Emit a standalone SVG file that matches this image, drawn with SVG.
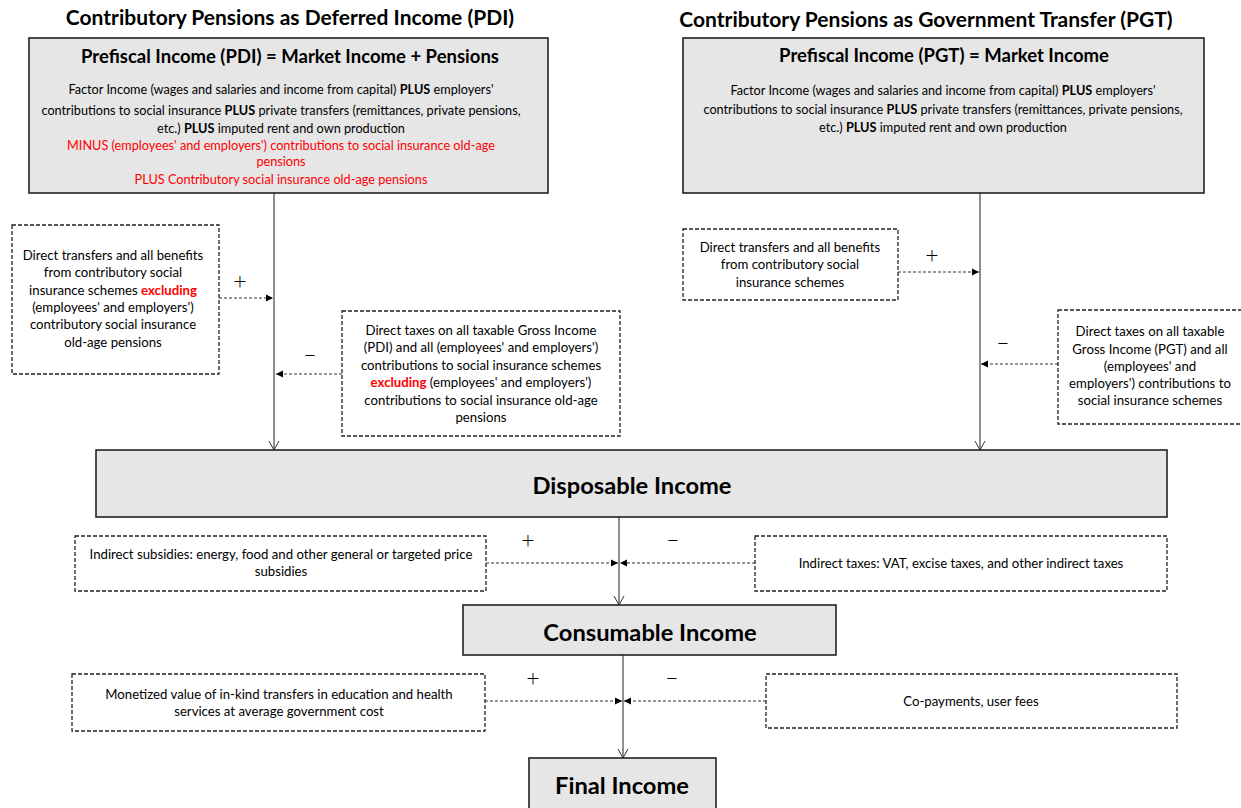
<svg xmlns="http://www.w3.org/2000/svg" width="1241" height="808" viewBox="0 0 1241 808">
<style>
text{font-family:Lato,"Open Sans","Liberation Sans",sans-serif;fill:#000;text-anchor:middle}
.title{font-size:21px;font-weight:bold}
.head{font-size:18.5px;font-weight:bold}
.big{font-size:23.7px;font-weight:bold}
.body{font-size:12.7px}
.small{font-size:13.2px}
.red{fill:#ff0000}
.b{font-weight:bold}
.box{fill:#e6e6e6;stroke:#222;stroke-width:1.6}
.dbox{fill:#fff;stroke:#222;stroke-width:1.3;stroke-dasharray:4 2}
.main{stroke:#333;stroke-width:1.1;fill:none}
.dash{stroke:#333;stroke-width:1;stroke-dasharray:3 2;fill:none}
.sign{font-size:23px;font-weight:300}
</style>
<defs>
<marker id="open" markerWidth="12" markerHeight="12" refX="10" refY="6" orient="auto" markerUnits="userSpaceOnUse">
<path d="M1,1 L10,6 L1,11" fill="none" stroke="#333" stroke-width="1"/>
</marker>
<marker id="fill" markerWidth="8" markerHeight="8" refX="7" refY="4" orient="auto" markerUnits="userSpaceOnUse">
<path d="M0,0.5 L7,4 L0,7.5 Z" fill="#000"/>
</marker>
</defs>

<text class="title" x="290" y="25">Contributory Pensions as Deferred Income (PDI)</text>
<text class="title" x="926" y="27">Contributory Pensions as Government Transfer (PGT)</text>

<g id="connectors">
<line class="main" x1="274" y1="193" x2="274" y2="450" marker-end="url(#open)"/>
<line class="main" x1="980" y1="193" x2="980" y2="450" marker-end="url(#open)"/>
<line class="main" x1="619" y1="517" x2="619" y2="605" marker-end="url(#open)"/>
<line class="main" x1="623" y1="655" x2="623" y2="758" marker-end="url(#open)"/>
<line class="dash" x1="219" y1="298" x2="273" y2="298" marker-end="url(#fill)"/>
<line class="dash" x1="342" y1="374" x2="276" y2="374" marker-end="url(#fill)"/>
<line class="dash" x1="898" y1="272" x2="979" y2="272" marker-end="url(#fill)"/>
<line class="dash" x1="1058" y1="364" x2="981" y2="364" marker-end="url(#fill)"/>
<line class="dash" x1="486" y1="563" x2="618" y2="563" marker-end="url(#fill)"/>
<line class="dash" x1="755" y1="563" x2="620" y2="563" marker-end="url(#fill)"/>
<line class="dash" x1="485" y1="701" x2="622" y2="701" marker-end="url(#fill)"/>
<line class="dash" x1="766" y1="701" x2="624" y2="701" marker-end="url(#fill)"/>
<text class="sign" x="240" y="289">+</text>
<text class="sign" x="310" y="362">–</text>
<text class="sign" x="932" y="263">+</text>
<text class="sign" x="1003" y="350">–</text>
<text class="sign" x="528" y="548">+</text>
<text class="sign" x="673" y="547">–</text>
<text class="sign" x="533" y="686">+</text>
<text class="sign" x="672" y="685">–</text>
</g>

<g id="prefiscal-pdi">
<rect class="box" x="29" y="38" width="519" height="155"/>
<text class="head" x="290" y="63">Prefiscal Income (PDI) = Market Income + Pensions</text>
<text class="body" x="281" y="94">Factor Income (wages and salaries and income from capital) <tspan class="b">PLUS</tspan> employers'</text>
<text class="body" x="281" y="115">contributions to social insurance <tspan class="b">PLUS</tspan> private transfers (remittances, private pensions,</text>
<text class="body" x="281" y="133">etc.) <tspan class="b">PLUS</tspan> imputed rent and own production</text>
<text class="body red" x="281" y="150">MINUS (employees' and employers') contributions to social insurance old-age</text>
<text class="body red" x="281" y="166">pensions</text>
<text class="body red" x="281" y="184">PLUS Contributory social insurance old-age pensions</text>
</g>

<g id="prefiscal-pgt">
<rect class="box" x="683" y="38" width="521" height="155"/>
<text class="head" x="944" y="62">Prefiscal Income (PGT) = Market Income</text>
<text class="body" x="943" y="95">Factor Income (wages and salaries and income from capital) <tspan class="b">PLUS</tspan> employers'</text>
<text class="body" x="943" y="114">contributions to social insurance <tspan class="b">PLUS</tspan> private transfers (remittances, private pensions,</text>
<text class="body" x="943" y="132">etc.) <tspan class="b">PLUS</tspan> imputed rent and own production</text>
</g>

<g id="direct-transfers-pdi">
<rect class="dbox" x="12" y="225" width="207" height="149"/>
<text class="small" x="113" y="260">Direct transfers and all benefits</text>
<text class="small" x="113" y="277">from contributory social</text>
<text class="small" x="113" y="295">insurance schemes <tspan class="b red">excluding</tspan></text>
<text class="small" x="113" y="312">(employees' and employers')</text>
<text class="small" x="113" y="329">contributory social insurance</text>
<text class="small" x="113" y="347">old-age pensions</text>
</g>

<g id="direct-taxes-pdi">
<rect class="dbox" x="342" y="311" width="278" height="125"/>
<text class="small" x="481" y="335">Direct taxes on all taxable Gross Income</text>
<text class="small" x="481" y="352">(PDI) and all (employees' and employers')</text>
<text class="small" x="481" y="370">contributions to social insurance schemes</text>
<text class="small" x="481" y="387"><tspan class="b red">excluding</tspan> (employees' and employers')</text>
<text class="small" x="481" y="405">contributions to social insurance old-age</text>
<text class="small" x="481" y="422">pensions</text>
</g>

<g id="direct-transfers-pgt">
<rect class="dbox" x="683" y="229" width="215" height="71"/>
<text class="small" x="790" y="252">Direct transfers and all benefits</text>
<text class="small" x="790" y="269">from contributory social</text>
<text class="small" x="790" y="287">insurance schemes</text>
</g>

<g id="direct-taxes-pgt">
<rect class="dbox" x="1058" y="310" width="190" height="114"/>
<text class="small" x="1150" y="336">Direct taxes on all taxable</text>
<text class="small" x="1150" y="354">Gross Income (PGT) and all</text>
<text class="small" x="1150" y="371">(employees' and</text>
<text class="small" x="1150" y="388">employers') contributions to</text>
<text class="small" x="1150" y="405">social insurance schemes</text>
</g>

<g id="disposable">
<rect class="box" x="96" y="450" width="1071" height="67"/>
<text class="big" x="632" y="494">Disposable Income</text>
</g>

<g id="indirect-subsidies">
<rect class="dbox" x="75" y="536" width="411" height="55"/>
<text class="small" x="281" y="559">Indirect subsidies: energy, food and other general or targeted price</text>
<text class="small" x="281" y="576">subsidies</text>
</g>

<g id="indirect-taxes">
<rect class="dbox" x="755" y="536" width="412" height="55"/>
<text class="small" x="961" y="568">Indirect taxes: VAT, excise taxes, and other indirect taxes</text>
</g>

<g id="consumable">
<rect class="box" x="463" y="605" width="373" height="50"/>
<text class="big" x="650" y="641">Consumable Income</text>
</g>

<g id="in-kind">
<rect class="dbox" x="72" y="674" width="413" height="57"/>
<text class="small" x="279" y="699">Monetized value of in-kind transfers in education and health</text>
<text class="small" x="279" y="716">services at average government cost</text>
</g>

<g id="copayments">
<rect class="dbox" x="766" y="674" width="411" height="54"/>
<text class="small" x="971" y="706">Co-payments, user fees</text>
</g>

<g id="final">
<rect class="box" x="529" y="758" width="187" height="60"/>
<text class="big" x="622" y="794">Final Income</text>
</g>
</svg>
